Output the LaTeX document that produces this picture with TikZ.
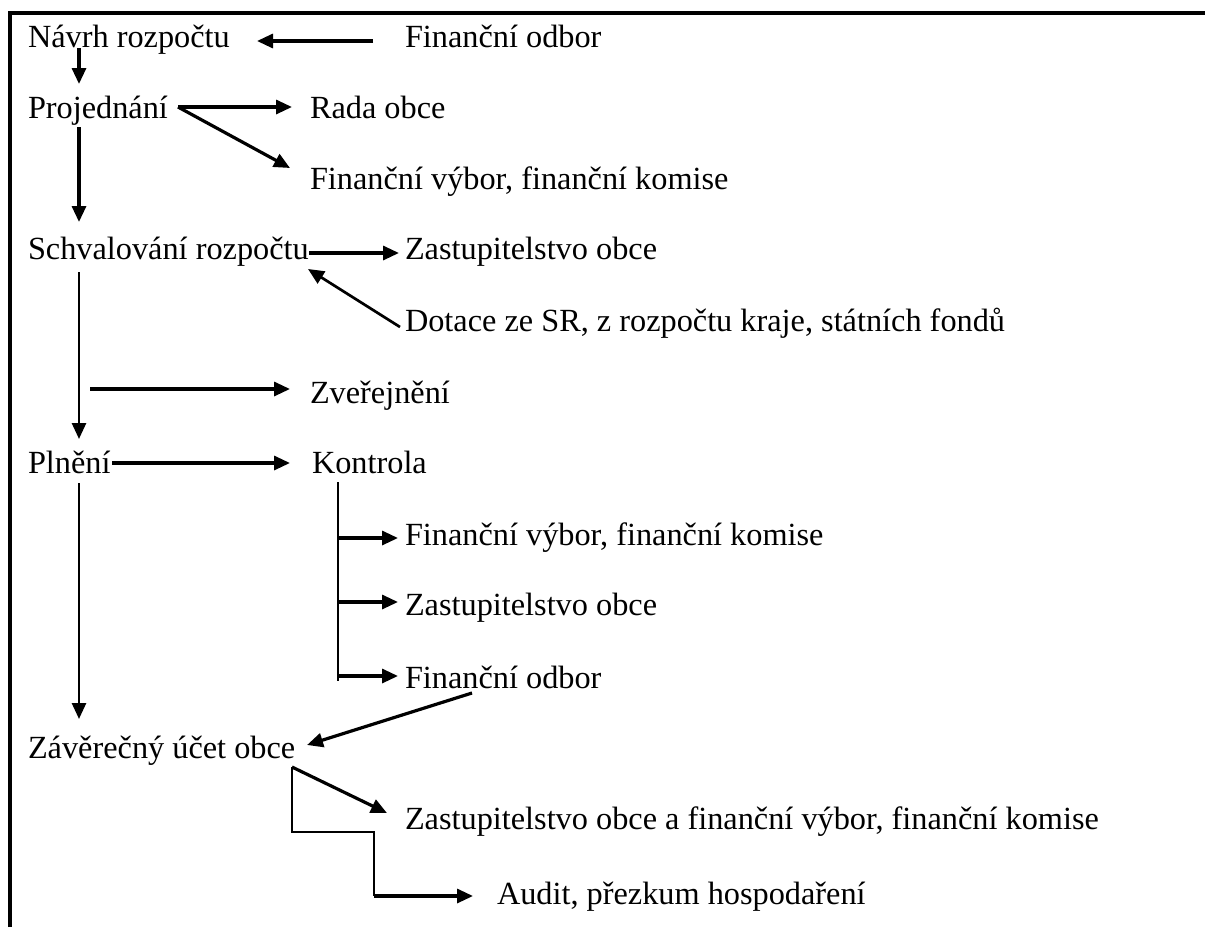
\documentclass[tikz,border=0pt]{standalone}
\usepackage{fontspec}
\setmainfont{Liberation Serif}
\usetikzlibrary{arrows.meta}
\begin{document}
\begin{tikzpicture}[x=1pt,y=-1pt,
  lbl/.style={anchor=base west,inner sep=0pt,outer sep=0pt,font=\fontsize{32.3}{38}\selectfont},
  arr/.style={line width=3.2pt,-{Triangle[length=16pt,width=14pt]}},
  thinarr/.style={line width=2.7pt,-{Triangle[length=16pt,width=14pt]}},
  lin/.style={line width=2.7pt},
  frame/.style={line width=4.5pt}]
\useasboundingbox (0,0) rectangle (1205,927);
% frame
\draw[frame] (10,927) -- (10,13) -- (1205,13);
% texts
\node[lbl] (navrh) at (28,47) {Návrh rozpočtu};
\node[lbl] (fo1) at (405,47) {Finanční odbor};
\node[lbl] (proj) at (28,118) {Projednání};
\node[lbl] (rada) at (310,118) {Rada obce};
\node[lbl] (fvk1) at (310,189) {Finanční výbor, finanční komise};
\node[lbl] (schv) at (28,259) {Schvalování rozpočtu};
\node[lbl] (zast1) at (405,259) {Zastupitelstvo obce};
\node[lbl] (dot) at (405,331) {Dotace ze SR, z rozpočtu kraje, státních fondů};
\node[lbl] (zver) at (310,403) {Zveřejnění};
\node[lbl] (plneni) at (28,473) {Plnění};
\node[lbl] (kontr) at (312,473) {Kontrola};
\node[lbl] (fvk2) at (405,545) {Finanční výbor, finanční komise};
\node[lbl] (zast2) at (405,615) {Zastupitelstvo obce};
\node[lbl] (fo2) at (405,688) {Finanční odbor};
\node[lbl] (zav) at (28,758) {Závěrečný účet obce};
\node[lbl] (zafv) at (405,829) {Zastupitelstvo obce a finanční výbor, finanční komise};
\node[lbl] (audit) at (497,904) {Audit, přezkum hospodaření};
% connector points
\coordinate (fo1out) at (373,41);
\coordinate (navrhin) at (257,41);
\coordinate (navrhdown) at (79,48);
\coordinate (projin) at (79,84);
\coordinate (projout) at (178,107);
\coordinate (radain) at (292,107);
\coordinate (fvk1in) at (290,168);
\coordinate (projdown) at (79,127);
\coordinate (schvin) at (79,222);
\coordinate (schvout) at (309,253);
\coordinate (zast1in) at (399,253);
\coordinate (dotout) at (400,327);
\coordinate (schvin2) at (308,269);
\coordinate (schvdown) at (79,272);
\coordinate (plnin) at (79,439);
\coordinate (zverout) at (90,389);
\coordinate (zverin) at (290,389);
\coordinate (plnout) at (112,463);
\coordinate (kontrin) at (290,463);
\coordinate (plndown) at (79,483);
\coordinate (zavin) at (79,719);
\coordinate (k0) at (338,482);
\coordinate (k1) at (338,681);
\coordinate (fo2out) at (472,693);
\coordinate (zavin2) at (307,745);
\coordinate (b0) at (292,767);
\coordinate (zafvin) at (387,813);
\coordinate (b1) at (292,832);
\coordinate (b2) at (374,832);
\coordinate (b3) at (374,896);
\coordinate (auditin) at (473,896);
% connectors
\draw[arr] (fo1out) -- (navrhin);
\draw[arr] (navrhdown) -- (projin);
\draw[arr] (projout) -- (radain);
\draw[arr] (projout) -- (fvk1in);
\draw[arr] (projdown) -- (schvin);
\draw[arr] (schvout) -- (zast1in);
\draw[thinarr] (dotout) -- (schvin2);
\draw[thinarr] (schvdown) -- (plnin);
\draw[arr] (zverout) -- (zverin);
\draw[arr] (plnout) -- (kontrin);
\draw[thinarr] (plndown) -- (zavin);
\draw[lin] (k0) -- (k1);
\draw[arr] (k0 |- 0,538) -- (398,538);
\draw[arr] (k0 |- 0,602) -- (398,602);
\draw[arr] (k0 |- 0,676) -- (398,676);
\draw[arr] (fo2out) -- (zavin2);
\draw[arr] (b0) -- (zafvin);
\draw[lin] (b0) -- (b1) -- (b2) -- (b3);
\draw[arr] (b3) -- (auditin);
\end{tikzpicture}
\end{document}
